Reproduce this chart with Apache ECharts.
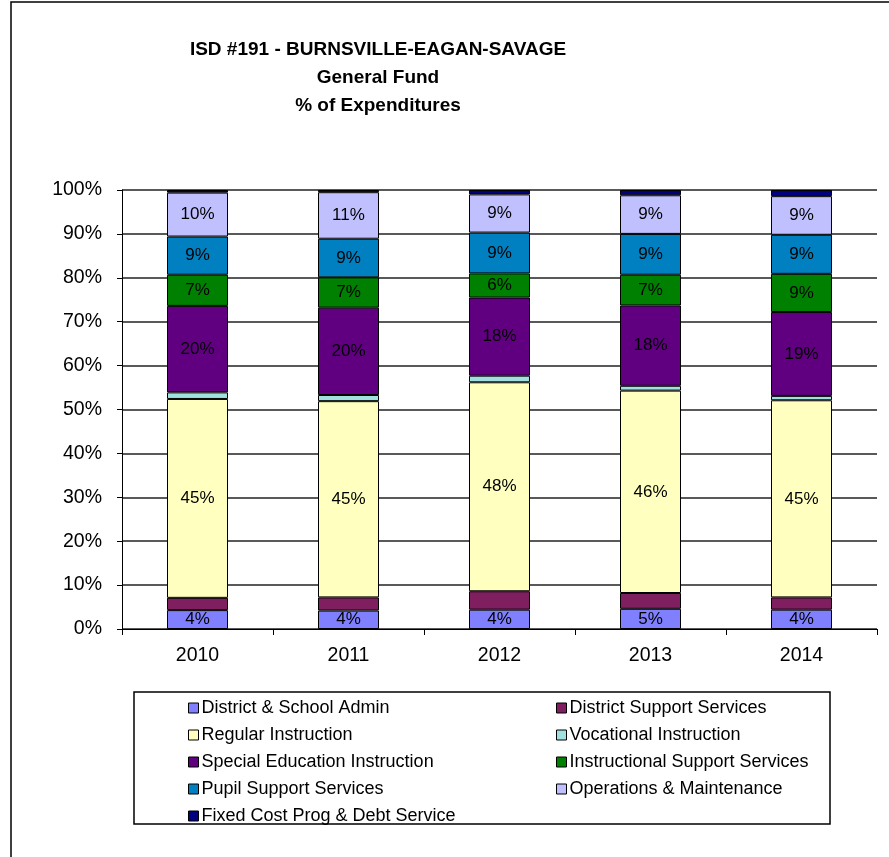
<!DOCTYPE html>
<html>
<head>
<meta charset="utf-8">
<script src="https://cdn.jsdelivr.net/npm/echarts@6/dist/echarts.min.js"></script>
<style>
  html, body { margin: 0; padding: 0; background: #fff; }
  #chart { width: 889px; height: 857px; }
</style>
</head>
<body>
<div id="chart"></div>
<script>
// 年份
const years = ['2010', '2011', '2012', '2013', '2014']
// 各项支出占比 (%)，自下而上
const admin = [4.3, 4.2, 4.4, 4.6, 4.4]
const districtSupport = [2.8, 3.0, 4.2, 3.6, 2.8]
const regular = [45.3, 44.7, 47.6, 46.1, 44.9]
const vocational = [1.5, 1.4, 1.5, 1.1, 1.0]
const specialEd = [19.7, 19.9, 17.8, 18.3, 19.1]
const instrSupport = [7.1, 6.9, 5.5, 7.0, 8.7]
const pupil = [8.7, 8.8, 9.3, 9.3, 8.9]
const operations = [10.0, 10.6, 8.7, 8.8, 8.8]
const fixedCost = [0.6, 0.5, 1.0, 1.2, 1.4]

const FONT = "'Liberation Sans', Arial, sans-serif"

// name, data, colour, show label
const seriesDefs = [
  ['District & School Admin', admin, '#8080FF', true],
  ['District Support Services', districtSupport, '#7F1F5F', false],
  ['Regular Instruction', regular, '#FFFFC0', true],
  ['Vocational Instruction', vocational, '#A0E0E0', false],
  ['Special Education Instruction', specialEd, '#600080', true],
  ['Instructional Support Services', instrSupport, '#008000', true],
  ['Pupil Support Services', pupil, '#0080C0', true],
  ['Operations & Maintenance', operations, '#C0C0FF', true],
  ['Fixed Cost Prog & Debt Service', fixedCost, '#000080', false]
]

const series = seriesDefs.map(([name, data, color, showLabel]) => ({
  name: name,
  type: 'bar',
  stack: 'total',
  barWidth: 61,
  data: data,
  itemStyle: { color: color, borderColor: '#000', borderWidth: 1 },
  label: {
    show: showLabel,
    position: 'inside',
    color: '#000',
    fontFamily: FONT,
    fontSize: 17,
    formatter: p => Math.round(p.value) + '%'
  }
}))

const legendCommon = {
  orient: 'vertical',
  top: 694,
  itemWidth: 10,
  itemHeight: 10,
  itemGap: 9,
  icon: 'rect',
  selectedMode: false,
  itemStyle: { borderColor: '#000', borderWidth: 1 },
  textStyle: { fontFamily: FONT, fontSize: 18, color: '#000', padding: [0, 0, 0, -2] }
}

const chart = echarts.init(document.getElementById('chart'))
chart.setOption({
  animation: false,
  backgroundColor: '#fff',
  title: {
    text: 'ISD #191 - BURNSVILLE-EAGAN-SAVAGE\nGeneral Fund\n% of Expenditures',
    left: 373,
    top: 31,
    textAlign: 'center',
    textStyle: { fontFamily: FONT, fontSize: 19, fontWeight: 'bold', color: '#000', lineHeight: 28 }
  },
  legend: [
    Object.assign({ left: 183, data: seriesDefs.filter((d, i) => i % 2 === 0).map(d => d[0]) }, legendCommon),
    Object.assign({ left: 551, data: seriesDefs.filter((d, i) => i % 2 === 1).map(d => d[0]) }, legendCommon)
  ],
  graphic: [
    { type: 'rect', shape: { x: 11, y: 2, width: 1000, height: 1000 }, style: { fill: 'none', stroke: '#000', lineWidth: 1.5 }, silent: true },
    { type: 'rect', shape: { x: 134, y: 692, width: 696, height: 132 }, style: { fill: 'none', stroke: '#000', lineWidth: 1.5 }, silent: true }
  ],
  grid: { left: 122, right: 12, top: 190, bottom: 228 },
  xAxis: {
    type: 'category',
    data: years,
    axisLine: { lineStyle: { color: '#000', width: 1 } },
    axisTick: { show: true, length: 6, lineStyle: { color: '#000' } },
    axisLabel: { color: '#000', fontFamily: FONT, fontSize: 19.5, margin: 17 }
  },
  yAxis: {
    type: 'value',
    min: 0,
    max: 100,
    interval: 10,
    axisLine: { show: true, lineStyle: { color: '#000', width: 1 } },
    axisTick: { show: true, length: 5, lineStyle: { color: '#000' } },
    axisLabel: { color: '#000', fontFamily: FONT, fontSize: 19.5, margin: 20, formatter: '{value}%' },
    splitLine: { show: true, lineStyle: { color: '#222', width: 1.5 } }
  },
  series: series
})
</script>
</body>
</html>
